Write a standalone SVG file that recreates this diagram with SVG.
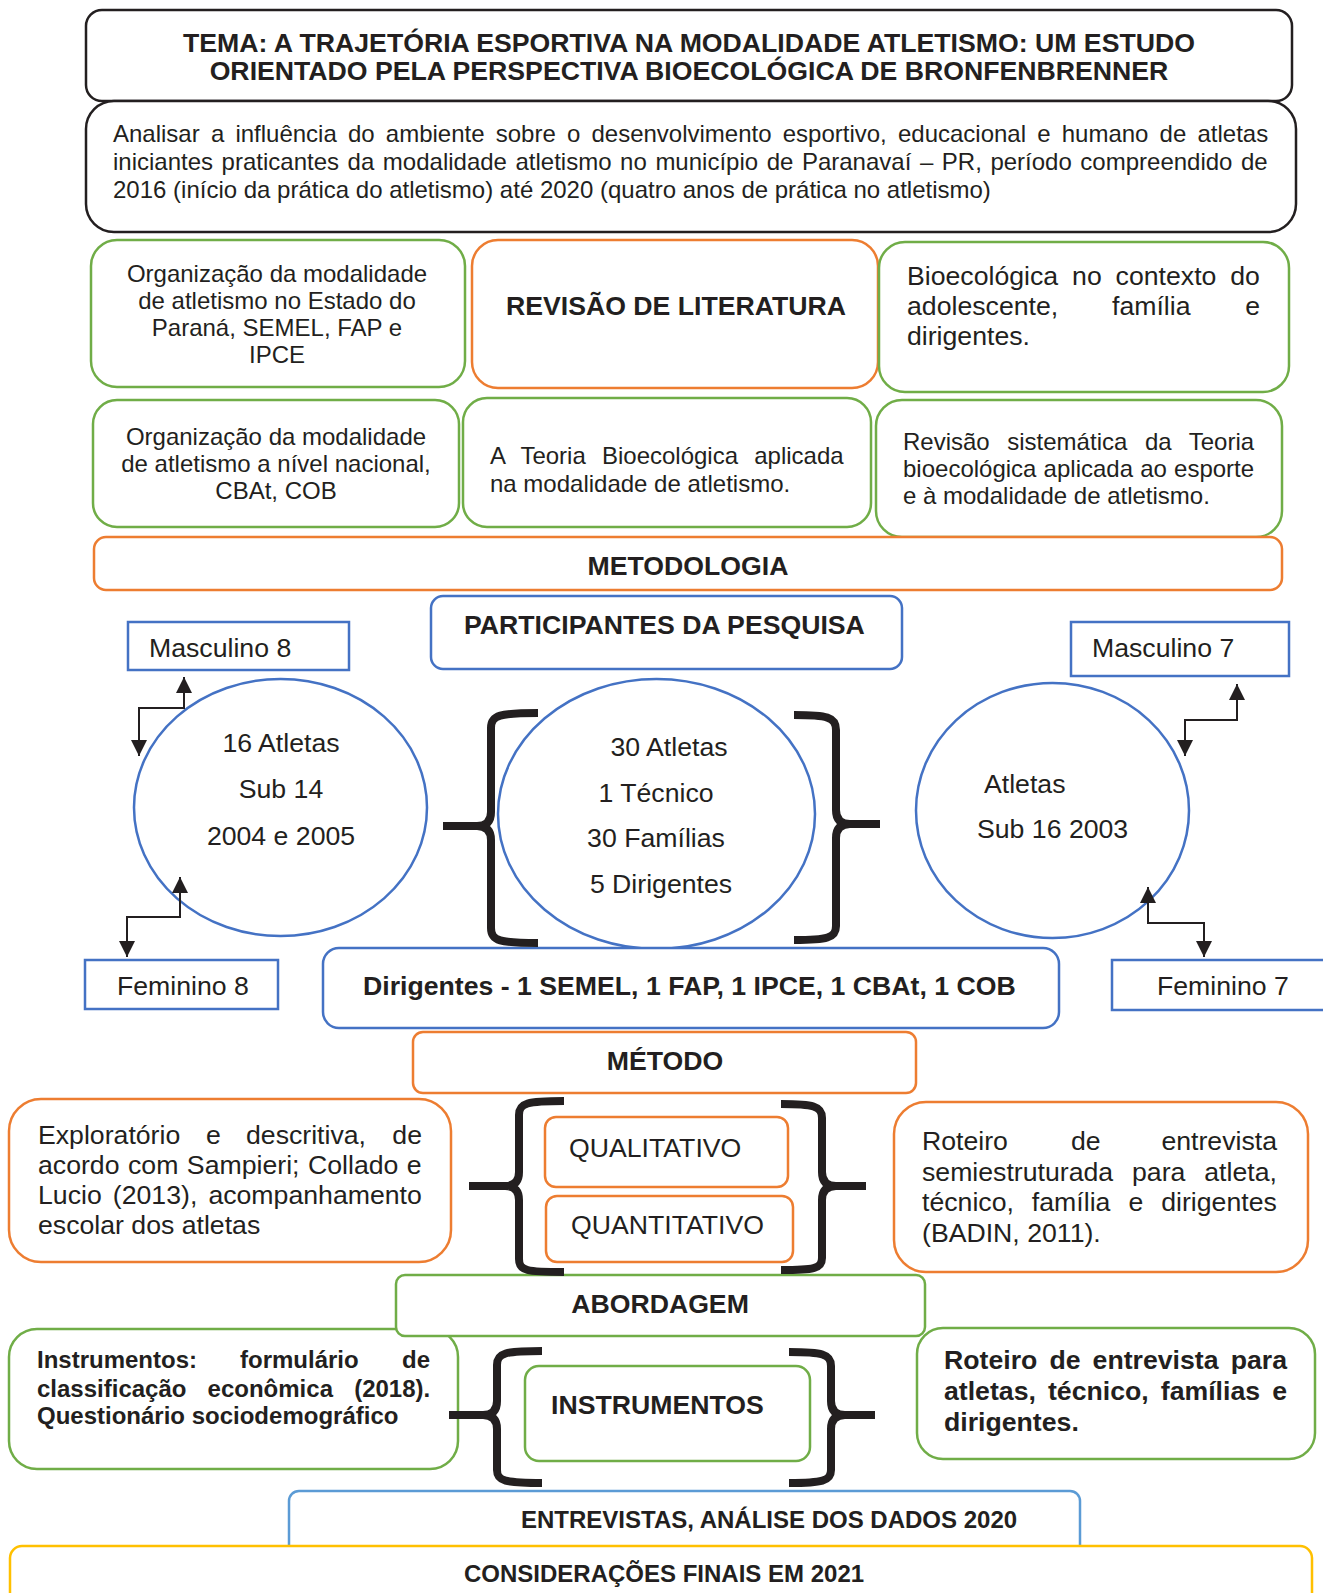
<svg xmlns="http://www.w3.org/2000/svg" width="1323" height="1593" viewBox="0 0 1323 1593">
<defs>
<style>
.t{font-family:"Liberation Sans",Arial,sans-serif;fill:#231F20}
.s24{font-size:24px}
.s26{font-size:26.67px}
.b{font-weight:bold}
.m{text-anchor:middle}
.e{text-anchor:end}
.bx{fill:#fff;stroke-width:2.5}
.k{stroke:#231F20}
.g{stroke:#70AD47}
.o{stroke:#ED7D31}
.bl{stroke:#4472C4}
.lb{stroke:#5B9BD5}
.y{stroke:#FFC000}
.br{fill:none;stroke:#231F20;stroke-width:8;stroke-linejoin:round}
.ar{fill:none;stroke:#231F20;stroke-width:2;marker-start:url(#ah);marker-end:url(#ah)}
</style>
<marker id="ah" markerUnits="userSpaceOnUse" markerWidth="16" markerHeight="18" refX="16" refY="8" orient="auto-start-reverse" viewBox="0 0 16 16">
<path d="M0,0 L16,8 L0,16 Z" fill="#231F20"/>
</marker>
</defs>
<rect width="1323" height="1593" fill="#fff"/>

<g id="tema">
<rect class="bx k" x="86" y="10" width="1206" height="91" rx="16"/>
<text class="t b m s26" x="689" y="52">TEMA: A TRAJETÓRIA ESPORTIVA NA MODALIDADE ATLETISMO: UM ESTUDO</text>
<text class="t b m s26" x="689" y="80">ORIENTADO PELA PERSPECTIVA BIOECOLÓGICA DE BRONFENBRENNER</text>
</g>

<g id="objetivo">
<rect class="bx k" x="86" y="101" width="1210" height="131" rx="28"/>
<text class="t s24" x="113" y="142" word-spacing="4.5">Analisar a influência do ambiente sobre o desenvolvimento esportivo, educacional e humano de atletas</text>
<text class="t s24" x="113" y="170" word-spacing="1.9">iniciantes praticantes da modalidade atletismo no município de Paranavaí – PR, período compreendido de</text>
<text class="t s24" x="113" y="198">2016 (início da prática do atletismo) até 2020 (quatro anos de prática no atletismo)</text>
</g>

<g id="org-estado">
<rect class="bx g" x="91" y="240" width="374" height="147" rx="26"/>
<text class="t s24 m" x="277" y="282">Organização da modalidade</text>
<text class="t s24 m" x="277" y="309">de atletismo no Estado do</text>
<text class="t s24 m" x="277" y="336">Paraná, SEMEL, FAP e</text>
<text class="t s24 m" x="277" y="363">IPCE</text>
</g>

<g id="revisao">
<rect class="bx o" x="472" y="240" width="406" height="148" rx="26"/>
<text class="t b s26 m" x="676" y="315">REVISÃO DE LITERATURA</text>
</g>

<g id="bioecologica-contexto">
<rect class="bx g" x="879" y="242" width="410" height="150" rx="26"/>
<text class="t s26" x="907" y="285" word-spacing="6.5">Bioecológica no contexto do</text>
<text class="t s26" x="907" y="315">adolescente,</text>
<text class="t s26" x="1112" y="315">família</text>
<text class="t s26 e" x="1260" y="315">e</text>
<text class="t s26" x="907" y="345">dirigentes.</text>
</g>

<g id="org-nacional">
<rect class="bx g" x="93" y="400" width="366" height="127" rx="24"/>
<text class="t s24 m" x="276" y="445">Organização da modalidade</text>
<text class="t s24 m" x="276" y="472">de atletismo a nível nacional,</text>
<text class="t s24 m" x="276" y="499">CBAt, COB</text>
</g>

<g id="teoria-aplicada">
<rect class="bx g" x="463" y="398" width="408" height="129" rx="24"/>
<text class="t s24" x="490" y="464" word-spacing="9.5">A Teoria Bioecológica aplicada</text>
<text class="t s24" x="490" y="492">na modalidade de atletismo.</text>
</g>

<g id="revisao-sistematica">
<rect class="bx g" x="876" y="400" width="406" height="137" rx="26"/>
<text class="t s24" x="903" y="450" word-spacing="10.9">Revisão sistemática da Teoria</text>
<text class="t s24" x="903" y="477" word-spacing="0.5">bioecológica aplicada ao esporte</text>
<text class="t s24" x="903" y="504">e à modalidade de atletismo.</text>
</g>

<g id="metodologia">
<rect class="bx o" x="94" y="537" width="1188" height="53" rx="12"/>
<text class="t b s26 m" x="688" y="575">METODOLOGIA</text>
</g>

<g id="participantes">
<rect class="bx bl" x="431" y="596" width="471" height="73" rx="12"/>
<text class="t b s26" x="464" y="634">PARTICIPANTES DA PESQUISA</text>
</g>

<g id="masculino8">
<rect class="bx bl" x="128" y="622" width="221" height="48"/>
<text class="t s26" x="149" y="657">Masculino 8</text>
</g>

<g id="masculino7">
<rect class="bx bl" x="1071" y="622" width="218" height="54"/>
<text class="t s26" x="1092" y="657">Masculino 7</text>
</g>

<g id="sub14">
<ellipse class="bx bl" cx="280.5" cy="807.5" rx="146.5" ry="128.5"/>
<text class="t s26 m" x="281" y="752">16 Atletas</text>
<text class="t s26 m" x="281" y="798">Sub 14</text>
<text class="t s26 m" x="281" y="845">2004 e 2005</text>
</g>

<g id="total">
<ellipse class="bx bl" cx="656.5" cy="814" rx="158.5" ry="135"/>
<text class="t s26 m" x="669" y="756">30 Atletas</text>
<text class="t s26 m" x="656" y="802">1 Técnico</text>
<text class="t s26 m" x="656" y="847">30 Famílias</text>
<text class="t s26 m" x="661" y="893">5 Dirigentes</text>
</g>

<g id="sub16">
<ellipse class="bx bl" cx="1052.5" cy="810.5" rx="136.5" ry="127.5"/>
<text class="t s26" x="984" y="793">Atletas</text>
<text class="t s26" x="977" y="838">Sub 16 2003</text>
</g>

<g id="feminino8">
<rect class="bx bl" x="85" y="960" width="193" height="49"/>
<text class="t s26" x="117" y="995">Feminino 8</text>
</g>

<g id="feminino7">
<rect class="bx bl" x="1112" y="960" width="230" height="50"/>
<text class="t s26" x="1157" y="995">Feminino 7</text>
</g>

<g id="dirigentes">
<rect class="bx bl" x="323" y="948" width="736" height="80" rx="16"/>
<text class="t b s26" x="363" y="995">Dirigentes - 1 SEMEL, 1 FAP, 1 IPCE, 1 CBAt, 1 COB</text>
</g>

<g id="metodo">
<rect class="bx o" x="413" y="1032" width="503" height="61" rx="10"/>
<text class="t b s26 m" x="665" y="1070">MÉTODO</text>
</g>

<g id="exploratorio">
<rect class="bx o" x="9" y="1099" width="442" height="163" rx="32"/>
<text class="t s26" x="38" y="1144">Exploratório</text>
<text class="t s26" x="206" y="1144">e</text>
<text class="t s26" x="246" y="1144">descritiva,</text>
<text class="t s26 e" x="422" y="1144">de</text>
<text class="t s26" x="38" y="1174" word-spacing="1.1">acordo com Sampieri; Collado e</text>
<text class="t s26" x="38" y="1204" word-spacing="3.7">Lucio (2013), acompanhamento</text>
<text class="t s26" x="38" y="1234">escolar dos atletas</text>
</g>

<g id="qualitativo">
<rect class="bx o" x="545" y="1117" width="243" height="70" rx="11"/>
<text class="t s26" x="569" y="1157">QUALITATIVO</text>
</g>

<g id="quantitativo">
<rect class="bx o" x="546" y="1196" width="247" height="66" rx="11"/>
<text class="t s26" x="571" y="1234">QUANTITATIVO</text>
</g>

<g id="roteiro-semi">
<rect class="bx o" x="894" y="1102" width="414" height="170" rx="32"/>
<text class="t s26" x="922" y="1150">Roteiro</text>
<text class="t s26" x="1071" y="1150">de</text>
<text class="t s26 e" x="1277" y="1150">entrevista</text>
<text class="t s26" x="922" y="1181" word-spacing="11.5">semiestruturada para atleta,</text>
<text class="t s26" x="922" y="1211" word-spacing="10.6">técnico, família e dirigentes</text>
<text class="t s26" x="922" y="1242">(BADIN, 2011).</text>
</g>

<g id="instrumentos-desc">
<rect class="bx g" x="9" y="1329" width="449" height="140" rx="28"/>
<text class="t b s24" x="37" y="1368">Instrumentos:</text>
<text class="t b s24" x="240" y="1368">formulário</text>
<text class="t b s24 e" x="430" y="1368">de</text>
<text class="t b s24" x="37" y="1397" word-spacing="14.5">classificação econômica (2018).</text>
<text class="t b s24" x="37" y="1424">Questionário sociodemográfico</text>
</g>

<g id="abordagem">
<rect class="bx g" x="396" y="1275" width="529" height="61" rx="9"/>
<text class="t b s26 m" x="660" y="1313">ABORDAGEM</text>
</g>

<g id="instrumentos">
<rect class="bx g" x="525" y="1366" width="285" height="95" rx="14"/>
<text class="t b s26" x="551" y="1414">INSTRUMENTOS</text>
</g>

<g id="roteiro-entrevista">
<rect class="bx g" x="917" y="1328" width="398" height="131" rx="26"/>
<text class="t b s26" x="944" y="1369" word-spacing="4.7">Roteiro de entrevista para</text>
<text class="t b s26" x="944" y="1400" word-spacing="4.7">atletas, técnico, famílias e</text>
<text class="t b s26" x="944" y="1431">dirigentes.</text>
</g>

<g id="entrevistas">
<rect class="bx lb" x="289" y="1491" width="791" height="80" rx="10"/>
<text class="t b s24" x="521" y="1528">ENTREVISTAS, ANÁLISE DOS DADOS 2020</text>
</g>

<g id="consideracoes">
<rect class="bx y" x="10" y="1546" width="1302" height="70" rx="12"/>
<text class="t b s24" x="464" y="1582">CONSIDERAÇÕES FINAIS EM 2021</text>
</g>

<g id="braces">
<path class="br" d="M538,713 C500,713 491,715 491,728 L491,812 Q491,826 477,826 L443,826 M477,826 Q491,826 491,840 L491,928 C491,941 500,943 538,943"/>
<path class="br" d="M794,715 C827,715 836,717 836,730 L836,810 Q836,824 850,824 L880,824 M850,824 Q836,824 836,838 L836,926 C836,938 827,940 794,940"/>
<path class="br" d="M564,1101 C527,1101 519,1103 519,1115 L519,1172 Q519,1186 505,1186 L469,1186 M505,1186 Q519,1186 519,1200 L519,1259 C519,1271 527,1272 564,1272"/>
<path class="br" d="M781,1104 C813,1104 822,1106 822,1118 L822,1172 Q822,1186 836,1186 L866,1186 M836,1186 Q822,1186 822,1200 L822,1258 C822,1269 813,1270 781,1270"/>
<path class="br" d="M542,1351 C505,1351 497,1353 497,1365 L497,1401 Q497,1415 483,1415 L449,1415 M483,1415 Q497,1415 497,1429 L497,1470 C497,1481 505,1483 542,1483"/>
<path class="br" d="M789,1352 C822,1352 831,1354 831,1366 L831,1401 Q831,1415 845,1415 L875,1415 M845,1415 Q831,1415 831,1429 L831,1470 C831,1481 822,1483 789,1483"/>
</g>

<g id="connectors">
<path class="ar" d="M139,756 L139,708 L184,708 L184,677"/>
<path class="ar" d="M127,957 L127,917 L180,917 L180,877"/>
<path class="ar" d="M1185,756 L1185,720 L1237,720 L1237,684"/>
<path class="ar" d="M1204,957 L1204,923 L1148,923 L1148,887"/>
</g>
</svg>
